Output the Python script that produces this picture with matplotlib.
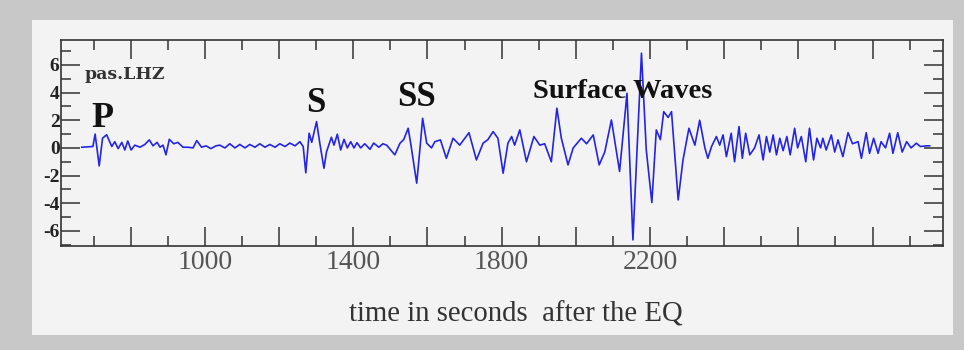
import matplotlib
matplotlib.use('Agg')
import matplotlib.pyplot as plt
from matplotlib.patches import Rectangle
from matplotlib.ticker import MultipleLocator

# seismogram pas.LHZ (time s, amplitude)
time_s = [668, 698, 704, 715, 724, 735, 749, 757, 766, 776, 784, 792, 801, 811, 825,
          838, 850, 860, 871, 879, 887, 895, 904, 916, 927, 941, 954, 968, 978, 991,
          1003, 1016, 1030, 1040, 1054, 1067, 1081, 1094, 1108, 1121, 1135, 1148, 1162,
          1175, 1189, 1202, 1216, 1229, 1243, 1256, 1265, 1272, 1281, 1288, 1301, 1310,
          1321, 1328, 1341, 1348, 1357, 1366, 1375, 1384, 1393, 1402, 1410, 1420, 1431,
          1445, 1455, 1469, 1480, 1490, 1512, 1526, 1536, 1548, 1555, 1571, 1580, 1587,
          1598, 1611, 1620, 1635, 1651, 1669, 1687, 1712, 1732, 1750, 1763, 1777, 1790,
          1804, 1817, 1827, 1835, 1849, 1867, 1887, 1903, 1916, 1934, 1949, 1961, 1979,
          1993, 2015, 2029, 2047, 2063, 2078, 2096, 2118, 2138, 2154, 2177, 2190, 2205,
          2217, 2228, 2237, 2249, 2258, 2276, 2289, 2305, 2321, 2334, 2348, 2356, 2366,
          2379, 2388, 2397, 2406, 2419, 2428, 2440, 2449, 2458, 2469, 2482, 2494, 2505,
          2514, 2523, 2532, 2541, 2550, 2559, 2569, 2578, 2590, 2598, 2608, 2620, 2630,
          2641, 2650, 2660, 2666, 2675, 2689, 2698, 2707, 2720, 2734, 2746, 2761, 2770,
          2783, 2792, 2803, 2815, 2823, 2835, 2846, 2855, 2868, 2880, 2892, 2904, 2918,
          2929, 2945, 2954]
amp = [0.05, 0.1, 1.0, -1.3, 0.7, 0.95, 0.1, 0.45, -0.05, 0.4, -0.15, 0.5, -0.15, 0.2, 0.05,
       0.25, 0.58, 0.15, 0.4, 0.05, 0.2, -0.5, 0.62, 0.3, 0.4, 0.05, 0.05, 0.0, 0.53, 0.05,
       0.15, -0.05, 0.15, 0.2, 0.0, 0.3, 0.0, 0.25, 0.0, 0.25, 0.05, 0.3, 0.05,
       0.25, 0.05, 0.3, 0.1, 0.35, 0.15, 0.45, 0.1, -1.8, 1.06, 0.4, 1.9, 0.3,
       -1.47, -0.27, 0.77, 0.2, 0.99, -0.15, 0.62, 0.0, 0.45, 0.0, 0.38, 0.0, 0.3,
       -0.1, 0.35, 0.05, 0.3, 0.2, -0.5, 0.34, 0.6, 1.42, 0.3, -2.55, 0.0, 2.14,
       0.34, 0.0, 0.45, 0.58, -0.75, 0.7, 0.2, 1.1, -0.87, 0.34, 0.6, 1.18, 0.7,
       -1.83, 0.34, 0.82, 0.2, 1.3, -1.0, 0.82, 0.2, 0.3, -1.0, 2.87, 0.7, -1.23,
       0.0, 0.7, 0.3, 0.94, -1.23, -0.3, 2.02, -1.7, 3.95, -6.65, 6.85, -0.15, -3.95,
       1.3, 0.6, 2.62, 2.2, 2.62, -3.76, -0.87, 1.42, 0.2, 2.0, 0.0, -0.75, 0.1,
       0.82, 0.2, 0.94, -0.63, 1.06, -1.0, 1.54, -0.75, 1.06, -0.5, 0.0, 0.94, -0.87,
       0.82, -0.3, 0.94, -0.5, 0.7, -0.2, 0.82, -0.5, 1.42, 0.0, 0.82, -1.0, 1.42,
       -0.87, 0.7, 0.0, 0.7, -0.15, 0.94, -0.3, 0.58, -0.63, 1.1, 0.3, 0.45, -0.75,
       1.1, -0.39, 0.7, -0.39, 0.45, 0.0, 1.06, -0.39, 1.1, -0.3, 0.45, 0.0, 0.34,
       0.1, 0.15, 0.15]

xtick_labels = {1000: '1000', 1400: '1400', 1800: '1800', 2200: '2200'}
ytick_vals = [-6, -4, -2, 0, 2, 4, 6]

# phase labels: (text, time, amplitude, size)
phases = [('P', 695, 1.5, 26), ('S', 1272, 2.6, 25), ('SS', 1517, 3.05, 25),
          ('Surface Waves', 1884, 3.6, 20.5)]

plt.rcParams['axes.unicode_minus'] = False

fig = plt.figure(figsize=(9.64, 3.5), dpi=100, facecolor='#c8c8c8')
fig.add_artist(Rectangle((32 / 964, 1 - 335 / 350), 921 / 964, 315 / 350,
                         transform=fig.transFigure, facecolor='#f3f3f3',
                         edgecolor='none', zorder=0))
ax = fig.add_axes([61 / 964, 1 - 246 / 350, 882 / 964, 206 / 350])
ax.set_facecolor('#f3f3f3')

ax.plot(time_s, amp, color='#2424e8', lw=1.2)

ax.set_xlim(612, 2990)
ax.set_ylim(-7.09, 7.8)

ax.xaxis.set_major_locator(MultipleLocator(200))
ax.xaxis.set_minor_locator(MultipleLocator(100))
ax.yaxis.set_major_locator(MultipleLocator(2))
ax.yaxis.set_minor_locator(MultipleLocator(1))
ax.xaxis.set_major_formatter(plt.FuncFormatter(lambda v, p: xtick_labels.get(int(round(v)), '')))
ax.set_yticks(ytick_vals)

ax.tick_params(which='both', direction='in', top=True, right=True, colors='#333333', width=1.1)
ax.tick_params(which='major', length=14)
ax.tick_params(which='minor', length=7)
ax.tick_params(axis='x', which='major', pad=3, labelcolor='#555555')
ax.tick_params(axis='y', which='major', pad=1, labelcolor='#222222')
for lab in ax.get_xticklabels():
    lab.set_fontfamily('Liberation Serif')
    lab.set_fontsize(20)
for lab in ax.get_yticklabels():
    lab.set_fontfamily('Liberation Serif')
    lab.set_fontweight('bold')
    lab.set_fontsize(14)

for sp in ax.spines.values():
    sp.set_linewidth(1.2)
    sp.set_color('#333333')

ax.text(677, 5.0, 'pas.LHZ', family='DejaVu Serif', weight='bold', fontsize=12.5,
        color='#333333', va='baseline')
for txt, t, a, s in phases:
    ax.text(t, a, txt, family='Liberation Serif', weight='bold', fontsize=s,
            color='#111111', va='baseline')

fig.text(349 / 964, 1 - 322 / 350, 'time in seconds  after the EQ',
         family='Liberation Serif', fontsize=20.7, color='#333333', va='baseline')

fig.savefig('out.png', dpi=100, facecolor=fig.get_facecolor())
